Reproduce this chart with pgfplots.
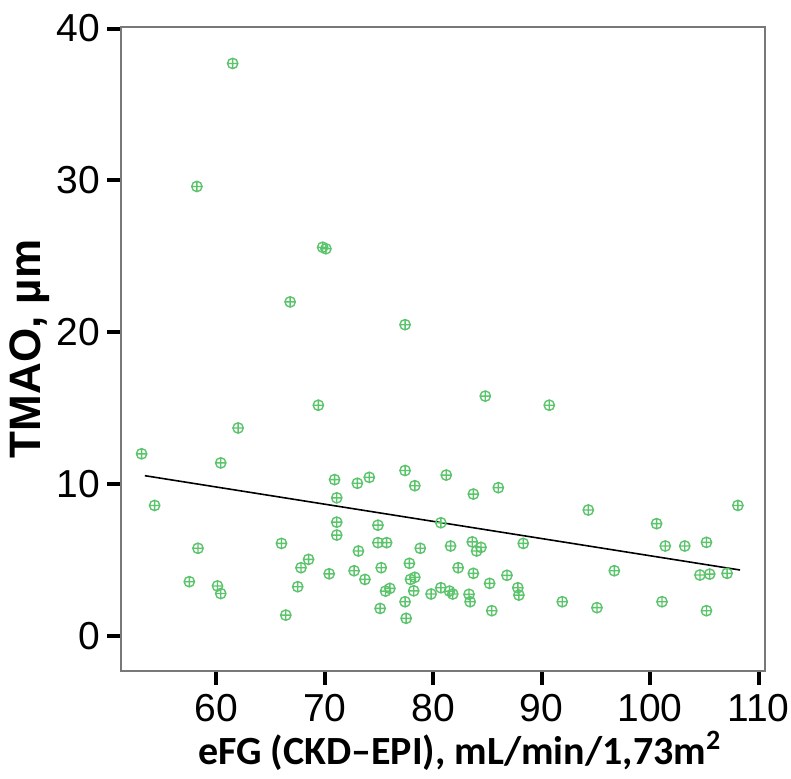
\documentclass[border=0pt]{standalone}
\usepackage{pgfplots}
\pgfplotsset{compat=1.18}
\usepackage{fontspec}
\setmainfont{Liberation Sans}
\newfontfamily\calib{Carlito}
\definecolor{ptgreen}{RGB}{92,196,108}
\definecolor{boxgray}{RGB}{120,120,120}
\begin{document}
\begin{tikzpicture}
\useasboundingbox (0,0) rectangle (395.5pt,389pt);
\begin{axis}[
  at={(60.5pt,53.5pt)}, anchor=south west,
  scale only axis, width=322pt, height=322pt,
  xmin=51.2, xmax=110.6, ymin=-2.3, ymax=40.1,
  xtick={60,70,80,90,100,110}, ytick={0,10,20,30,40},
  xtick pos=lower, ytick pos=left, tick align=outside,
  major tick length=7pt,
  every tick/.style={black, line width=2pt},
  axis line style={boxgray, line width=0.8pt},
  /pgf/number format/assume math mode=true,
  ticklabel style={font=\fontsize{19.5}{21}\selectfont},
  xticklabel style={yshift=-1pt},
  yticklabel style={xshift=0pt},
  xlabel={\calib\bfseries eFG (CKD–EPI), mL/min/1,73m\textsuperscript{2}},
  xlabel style={font=\fontsize{20}{22}\selectfont, at={(axis description cs:0.526,-0.124)}, anchor=center},
  ylabel={\bfseries TMAO, µm},
  ylabel style={font=\fontsize{22}{24}\selectfont, at={(axis description cs:-0.142,0.5)}, anchor=center},
  clip=false,
]
\addplot[only marks, mark=oplus, mark size=2.6pt, color=ptgreen, mark options={line width=0.7pt}] coordinates {
(61.5,37.7) (58.2,29.6) (69.8,25.6) (70.1,25.5) (66.8,22.0) (77.4,20.5)
(69.4,15.2) (84.8,15.8) (90.7,15.2) (62.0,13.7) (53.1,12.0) (60.4,11.4)
(70.9,10.3) (71.1,9.1) (54.3,8.6) (71.1,7.5) (73.0,10.06) (74.1,10.45)
(77.4,10.9) (78.3,9.9) (81.2,10.6) (83.7,9.35) (86.0,9.77) (74.9,7.3)
(80.7,7.46) (94.3,8.3) (100.6,7.4) (108.1,8.6) (58.3,5.78) (66.0,6.1)
(71.1,6.65) (68.5,5.05) (67.8,4.5) (70.4,4.1) (57.5,3.58) (60.1,3.3)
(60.4,2.8) (67.5,3.25) (66.4,1.38) (74.9,6.15) (75.7,6.15) (73.1,5.6)
(78.8,5.78) (81.6,5.93) (83.6,6.2) (84.0,5.6) (84.4,5.84) (88.3,6.1)
(72.7,4.3) (73.7,3.73) (75.2,4.5) (77.8,4.79) (82.3,4.5) (83.7,4.13)
(86.8,4.0) (85.2,3.47) (77.9,3.73) (78.3,3.87) (76.0,3.14) (75.6,2.96)
(78.2,2.98) (80.7,3.18) (81.5,2.96) (81.8,2.77) (79.8,2.77) (83.3,2.75)
(83.4,2.26) (87.8,3.18) (87.9,2.7) (77.4,2.26) (75.1,1.82) (85.4,1.67)
(77.5,1.17) (101.4,5.93) (103.2,5.93) (105.2,6.17) (96.7,4.3) (104.6,4.02)
(105.5,4.08) (107.1,4.13) (91.9,2.26) (95.1,1.87) (101.1,2.26) (105.2,1.67)
};
\addplot[black, line width=0.8pt] coordinates {(53.4,10.56) (108.3,4.35)};
\end{axis}
\end{tikzpicture}
\end{document}
